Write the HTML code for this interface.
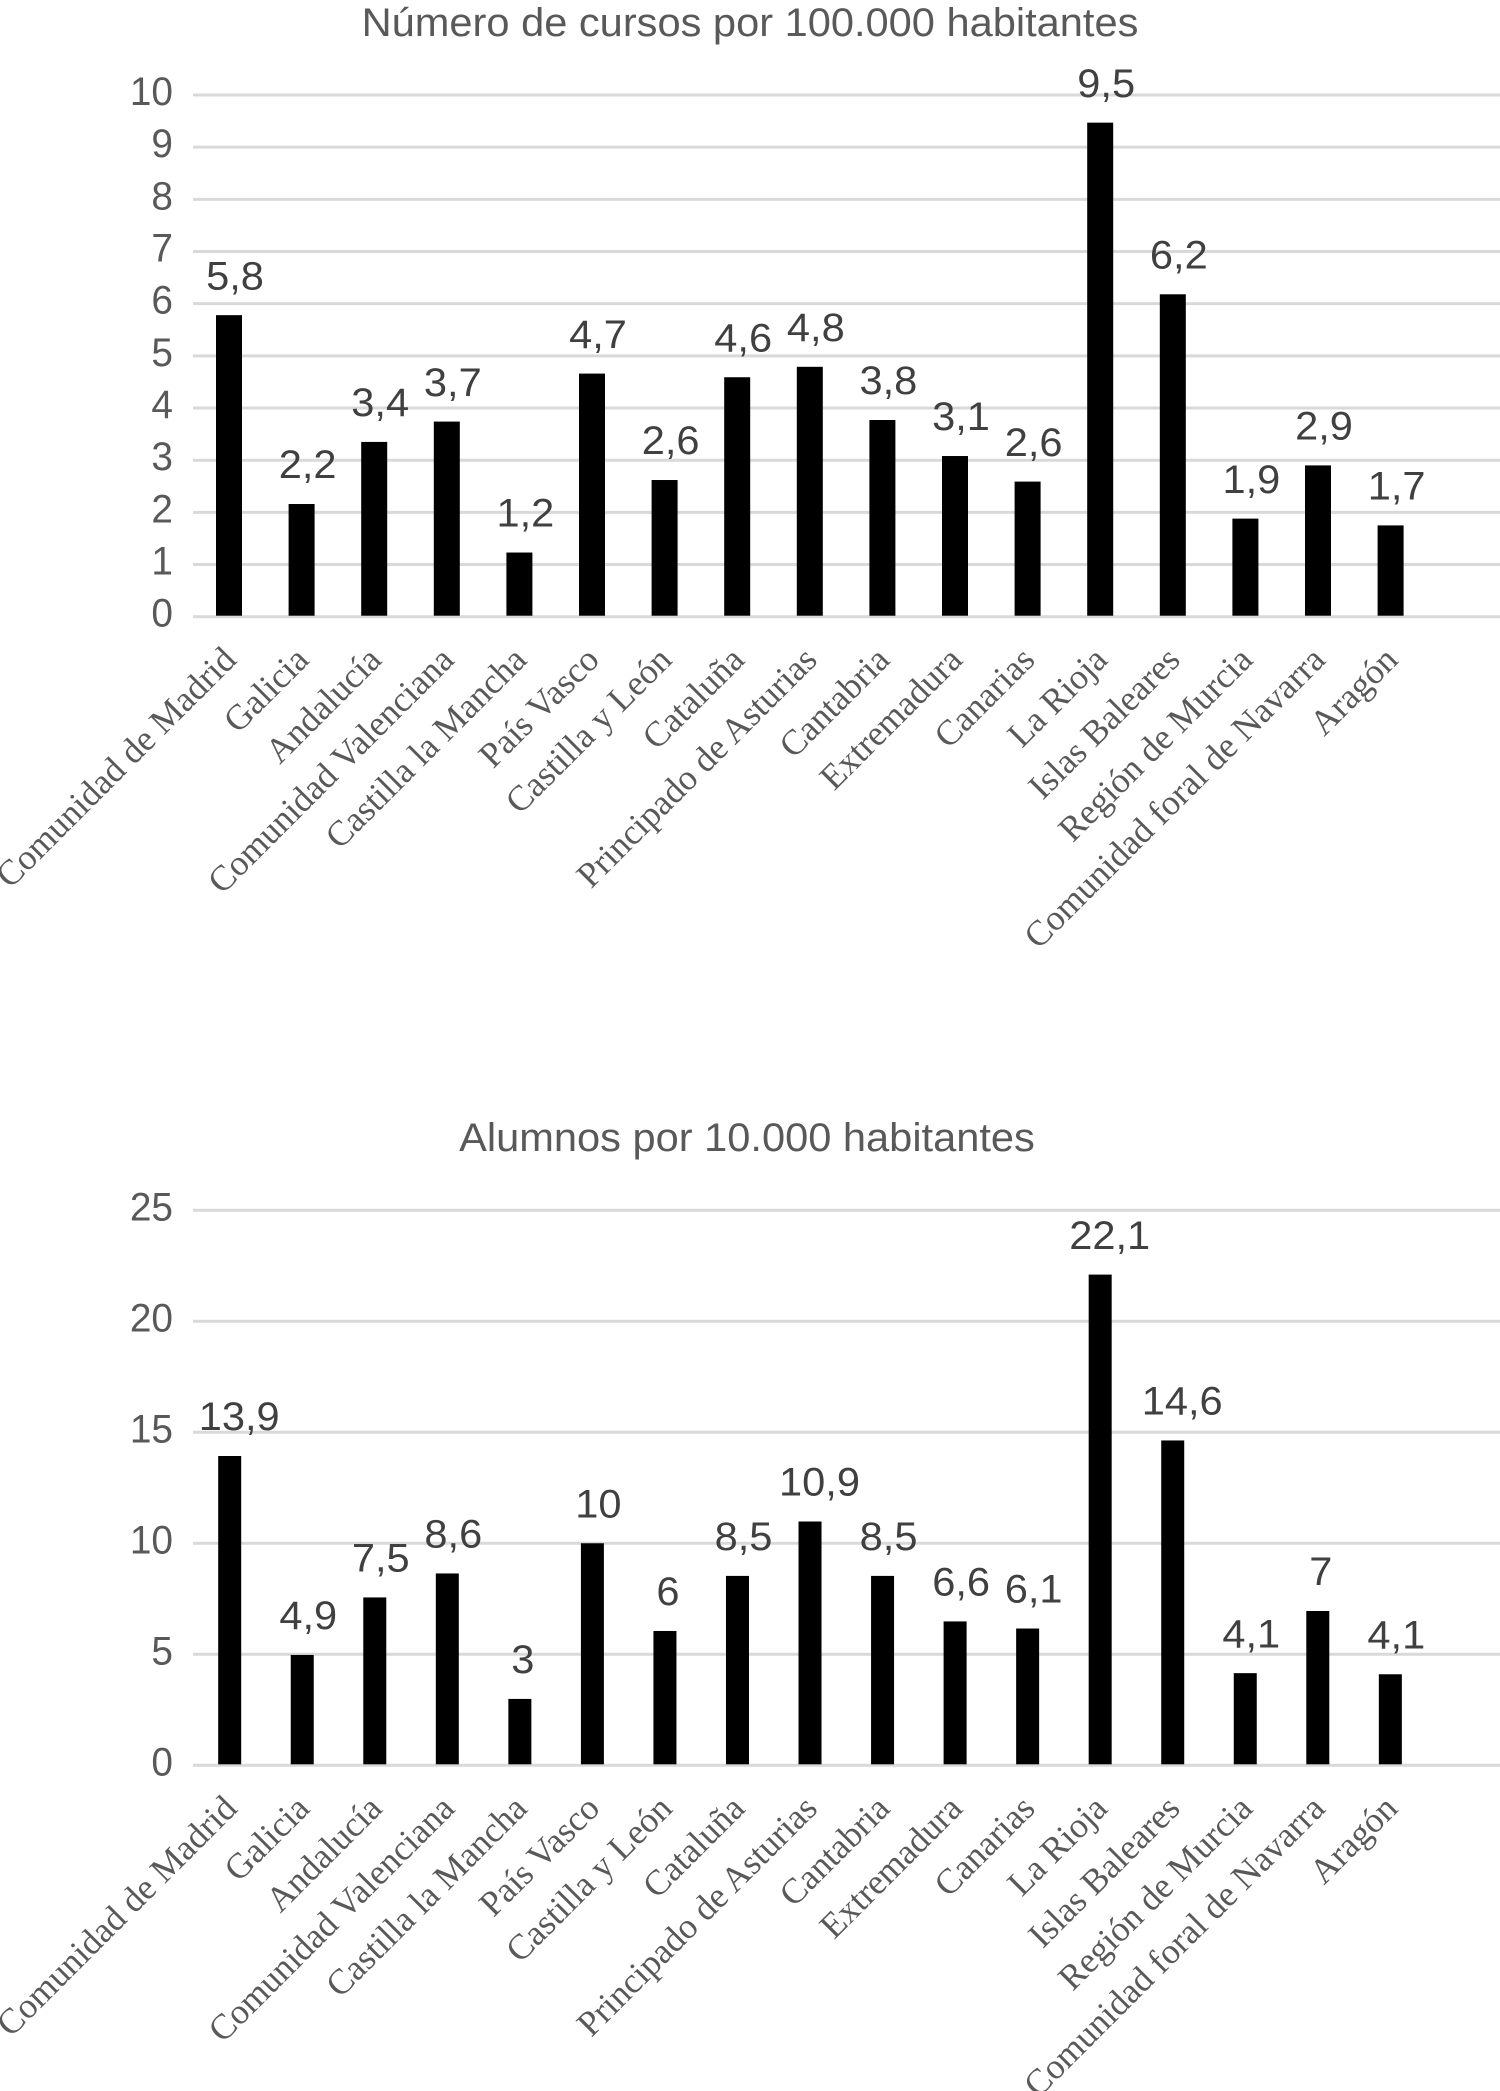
<!DOCTYPE html>
<html lang="es">
<head>
<meta charset="utf-8">
<title>Cursos y alumnos por comunidad</title>
<style>
html,body{margin:0;padding:0;background:#fff}
svg{display:block}
</style>
</head>
<body>
<svg id="charts" xmlns="http://www.w3.org/2000/svg" width="1500" height="2091" viewBox="0 0 1500 2091">
<rect x="0" y="0" width="1500" height="2091" fill="#fff"/>
<g id="chart-cursos"></g>
<g id="chart-alumnos"></g>
</svg>
<script>
const categories = ["Comunidad de Madrid","Galicia","Andalucía","Comunidad Valenciana","Castilla la Mancha","País Vasco","Castilla y León","Cataluña","Principado de Asturias","Cantabria","Extremadura","Canarias","La Rioja","Islas Baleares","Región de Murcia","Comunidad foral de Navarra","Aragón"];
const cursosValues = [5.78,2.16,3.35,3.74,1.23,4.66,2.62,4.59,4.79,3.77,3.08,2.59,9.47,6.18,1.88,2.9,1.75];
const cursosLabels = ["5,8","2,2","3,4","3,7","1,2","4,7","2,6","4,6","4,8","3,8","3,1","2,6","9,5","6,2","1,9","2,9","1,7"];
const cursosTicks = [0,1,2,3,4,5,6,7,8,9,10];
const alumnosValues = [13.93,4.97,7.56,8.64,2.99,10,6.05,8.53,10.98,8.53,6.48,6.16,22.1,14.63,4.15,6.95,4.1];
const alumnosLabels = ["13,9","4,9","7,5","8,6","3","10","6","8,5","10,9","8,5","6,6","6,1","22,1","14,6","4,1","7","4,1"];
const alumnosTicks = [0,5,10,15,20,25];

const SVGNS = "http://www.w3.org/2000/svg";
const SANS = '"Liberation Sans", Arial, sans-serif';
const SERIF = '"Liberation Serif", "Times New Roman", serif';

function makeEl(tag, attrs, parent) {
  const el = document.createElementNS(SVGNS, tag);
  for (const k in attrs) el.setAttribute(k, attrs[k]);
  parent.appendChild(el);
  return el;
}

function labelOffset(text) {
  if (text.length === 1) return 3;
  if (text.length === 4) return 9.5;
  return 6;
}

function drawChart(opts) {
  const root = document.getElementById(opts.rootId);
  const maxTick = opts.ticks[opts.ticks.length - 1];
  const yScale = v => opts.y0 - (v / maxTick) * (opts.y0 - opts.yTop);
  const xScale = i => opts.x0 + i * opts.step;
  const SX = 1.04;

  const title = makeEl("text", {
    transform: "translate(" + opts.titleX + "," + opts.titleY + ") scale(" + SX + ",1)",
    "text-anchor": "middle", "font-family": SANS, "font-size": 40, fill: "#595959"
  }, root);
  title.textContent = opts.title;
  
  

  opts.ticks.forEach(t => {
    const y = yScale(t);
    const line = makeEl("line", {
      x1: 193, x2: 1500, y1: y, y2: y, stroke: "#d9d9d9", "stroke-width": 3
    }, root);
    
    

    const lab = makeEl("text", {
      transform: "translate(173," + (y + opts.tickDy) + ") scale(0.97,1)",
      "text-anchor": "end", "font-family": SANS, "font-size": 40, fill: "#595959"
    }, root);
    lab.textContent = String(t);
    
    
  });

  categories.forEach((name, i) => {
    const cx = xScale(i);
    const top = yScale(opts.values[i]);

    const bar = makeEl("rect", {
      x: cx - opts.barWidth / 2, y: top, width: opts.barWidth, height: opts.y0 - top - 1, fill: "#000"
    }, root);
    
    

    const val = makeEl("text", {
      transform: "translate(" + (cx + labelOffset(opts.labels[i])) + "," + (top - 25.8) + ") scale(" + SX + ",1)",
      "text-anchor": "middle", "font-family": SANS, "font-size": 40, fill: "#404040"
    }, root);
    val.textContent = opts.labels[i];
    
    

    const cat = makeEl("text", {
      transform: "translate(" + (cx + 9) + "," + (opts.y0 + 45) + ") rotate(-45)",
      "text-anchor": "end", "font-family": SERIF, "font-size": 35.6, fill: "#595959"
    }, root);
    cat.textContent = name;
    
    
  });
}

drawChart({
  rootId: "chart-cursos",
  title: "Número de cursos por 100.000 habitantes",
  titleX: 750, titleY: 36,
  values: cursosValues, labels: cursosLabels, ticks: cursosTicks,
  x0: 229, step: 72.6, barWidth: 26,
  y0: 616.7, yTop: 95, tickDy: 10
});

drawChart({
  rootId: "chart-alumnos",
  title: "Alumnos por 10.000 habitantes",
  titleX: 747, titleY: 1151,
  values: alumnosValues, labels: alumnosLabels, ticks: alumnosTicks,
  x0: 229.7, step: 72.54, barWidth: 23,
  y0: 1765.3, yTop: 1210.2, tickDy: 10.4
});
</script>
</body>
</html>
